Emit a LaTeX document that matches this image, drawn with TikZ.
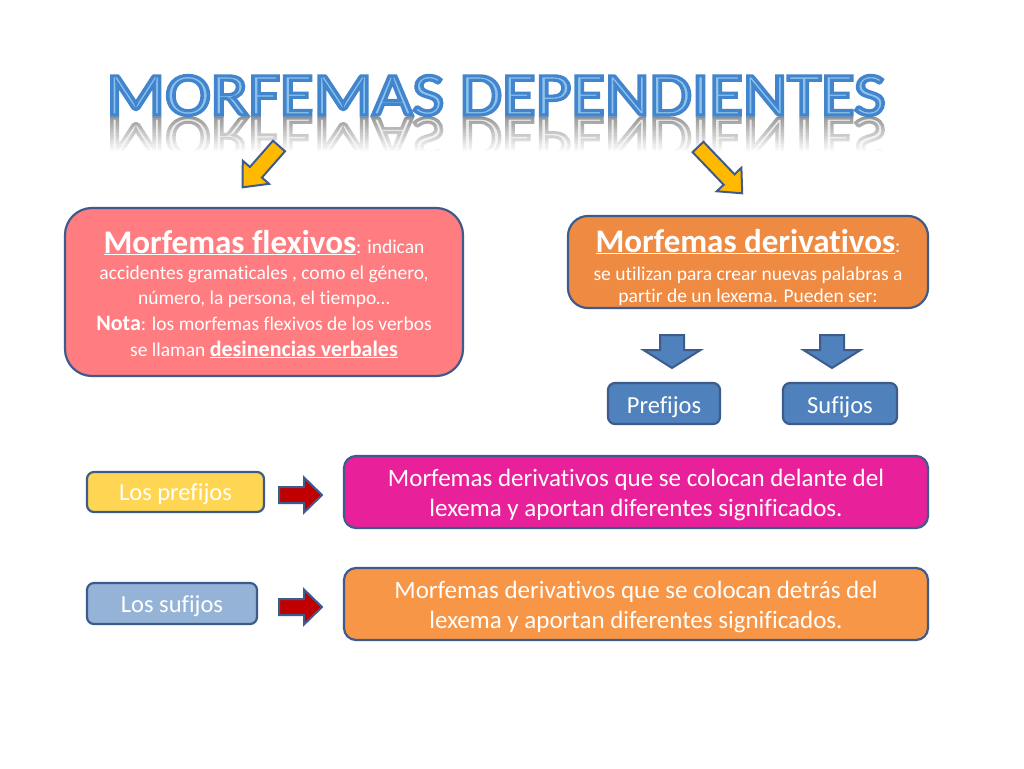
\documentclass[tikz,border=0pt]{standalone}
\usepackage{fontspec}
\setmainfont{Carlito}[Ligatures=NoCommon]
\definecolor{bord}{HTML}{3F5B8C}
\definecolor{salmon}{HTML}{FF7C80}
\definecolor{orgA}{HTML}{EE8A42}
\definecolor{magA}{HTML}{E8219A}
\definecolor{orgB}{HTML}{F79646}
\definecolor{blueA}{HTML}{4F81BD}
\definecolor{goldA}{HTML}{FFD653}
\definecolor{lblue}{HTML}{95B3D7}
\definecolor{ttlfill}{HTML}{8CC2EE}
\definecolor{yarrow}{HTML}{FFBA00}
\definecolor{redA}{HTML}{C00000}
% outlined text: fill in current colour, stroke in the given RGB
\newcommand\outlined[3]{\special{pdf:literal direct 2 Tr #2 w #1 RG}#3\special{pdf:literal direct 0 Tr}}
\tikzset{
  ttl/.style={inner sep=0, anchor=base, font=\fontsize{61}{61}\selectfont},
  rbox/.style={draw=bord, line width=2.2pt, inner sep=0},
  txt/.style={text=white, inner sep=0, anchor=base},
  body/.style={txt, font=\fontsize{19.5}{23}\selectfont},
  big/.style={txt, font=\fontsize{24.5}{28}\selectfont},
  bigger/.style={txt, font=\fontsize{25}{30}\selectfont},
}
\newcommand\blockarr[8]{%
  \begin{scope}[shift={(#1,#2)},rotate=#3]
    \filldraw[fill=#8,draw=bord,line width=2pt,line join=miter]
      (0,-#5) -- ({#4-#7},-#5) -- ({#4-#7},-#6) -- (#4,0) -- ({#4-#7},#6) -- ({#4-#7},#5) -- (0,#5) -- cycle;
  \end{scope}}
\begin{document}
\begin{tikzpicture}[x=1pt,y=-1pt]
\fill[white] (0,0) rectangle (1024,768);
\useasboundingbox (0,0) rectangle (1024,768);

% reflection of the title
\node[ttl,text=gray!22] (rfl) at (496,118) {\scalebox{1.13}[-1]{\outlined{0.55 0.55 0.55}{3}{MORFEMAS DEPENDIENTES}}};
\foreach \i in {0,...,15}
  \fill[white, fill opacity={0.15+0.0567*\i}] (90,{118+2.2*\i}) rectangle (905,{118+2.2*(\i+1)});
\fill[white] (90,153) rectangle (905,172);

% title
\node[ttl,text=ttlfill] (ttl) at (496,115) {\scalebox{1.13}[1]{\outlined{0.26 0.52 0.80}{3.2}{MORFEMAS DEPENDIENTES}}};

% block arrows
\blockarr{279}{146}{228.7}{55}{8}{17.5}{20}{yarrow}
\blockarr{698}{147}{-46.3}{64}{7.5}{17}{19}{yarrow}
\blockarr{672}{335}{-90}{33}{12}{28.5}{18}{blueA}
\blockarr{832}{335}{-90}{33}{12}{28.5}{18}{blueA}
\blockarr{279}{495}{0}{43}{8}{17.5}{18}{redA}
\blockarr{279}{607}{0}{43}{8}{17.5}{18}{redA}

% left box
\node[rbox, fill=salmon, minimum width=398pt, minimum height=168pt, rounded corners=27pt] (flex) at (264,292) {};
\node[body] (f1) at (264,253) {{\bfseries\fontsize{33}{33}\selectfont\underline{Morfemas flexivos}}: indican};
\node[body] (f2) at (264,279) {accidentes gramaticales , como el género,};
\node[body] (f3) at (264,304) {número, la persona, el tiempo…};
\node[body] (f4) at (264,330) {{\bfseries\fontsize{22}{22}\selectfont Nota}: los morfemas flexivos de los verbos};
\node[body] (f5) at (264,356) {se llaman {\bfseries\fontsize{22}{22}\selectfont\underline{desinencias verbales}}};

% right box
\node[rbox, fill=orgA, minimum width=360pt, minimum height=92pt, rounded corners=20pt] (deriv) at (748,262) {};
\node[body] (d1) at (748,252) {{\bfseries\fontsize{33}{33}\selectfont\underline{Morfemas derivativos}}:};
\node[body] (d2) at (748,280) {se utilizan para crear nuevas palabras a};
\node[body] (d3) at (748,302) {partir de un lexema. Pueden ser:};

% prefijos / sufijos
\node[rbox, fill=blueA, minimum width=112pt, minimum height=41pt, rounded corners=7pt] (pre) at (664,403.5) {};
\node[big] (pret) at (664,413) {Prefijos};
\node[rbox, fill=blueA, minimum width=114pt, minimum height=41pt, rounded corners=7pt] (suf) at (840,403.5) {};
\node[big] (suft) at (840,413) {Sufijos};

% bottom rows
\node[rbox, fill=goldA, minimum width=177pt, minimum height=40pt, rounded corners=7pt] (lpre) at (175.5,492) {};
\node[big] (lpret) at (175.5,500) {Los prefijos};
\node[rbox, fill=lblue, minimum width=170pt, minimum height=41pt, rounded corners=7pt] (lsuf) at (172,603.5) {};
\node[big] (lsuft) at (172,612) {Los sufijos};

\node[rbox, fill=magA, minimum width=584pt, minimum height=72pt, rounded corners=12pt] (mag) at (636,492) {};
\node[bigger] (m1) at (636,486) {Morfemas derivativos que se colocan delante del};
\node[bigger] (m2) at (636,516) {lexema y aportan diferentes significados.};
\node[rbox, fill=orgB, minimum width=584pt, minimum height=72pt, rounded corners=12pt] (org) at (636,604) {};
\node[bigger] (o1) at (636,598) {Morfemas derivativos que se colocan detrás del};
\node[bigger] (o2) at (636,628) {lexema y aportan diferentes significados.};
\end{tikzpicture}
\end{document}
